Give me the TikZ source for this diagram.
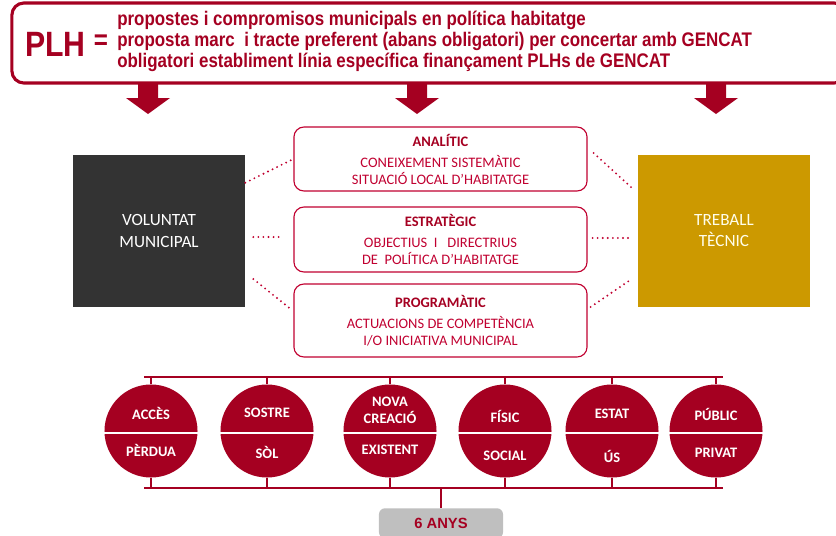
\documentclass[tikz,border=0pt]{standalone}
\usepackage{fontspec}
\newfontfamily\narrowfont[FakeStretch=0.86]{Liberation Sans}
\newfontfamily\arialfont{Liberation Sans}
\newfontfamily\calfont{Carlito}
\usetikzlibrary{positioning,calc}
\definecolor{plhred}{RGB}{165,0,33}
\definecolor{boxred}{RGB}{192,0,48}
\definecolor{darkbox}{RGB}{51,51,51}
\definecolor{goldbox}{RGB}{204,153,0}
\definecolor{anysgray}{RGB}{191,191,191}
\tikzstyle{plhBox}=[draw=plhred, line width=2.2pt, rounded corners=0.3cm, minimum width=20.85cm, minimum height=2cm, inner sep=0pt]
\tikzstyle{plhTxt}=[text=plhred, inner sep=0pt, align=left]
\tikzstyle{sideBox}=[minimum width=4.3cm, minimum height=3.8cm, inner sep=0pt, text=white, font=\calfont\fontsize{12.2}{15}\selectfont, align=center]
\tikzstyle{levelBox}=[draw=boxred, line width=0.8pt, rounded corners=0.25cm, minimum width=7.325cm, inner sep=0pt, text=boxred, font=\calfont\fontsize{10.3}{12}\selectfont, align=center]
\tikzstyle{axisC}=[circle, fill=plhred, minimum size=2.325cm, inner sep=0pt]
\tikzstyle{axisT}=[text=white, font=\calfont\bfseries\fontsize{10.3}{12}\selectfont, align=center, inner sep=0pt]
\tikzstyle{dotLine}=[draw=boxred, line width=1.5pt, line cap=round, dash pattern=on 0pt off 3.6pt]
\tikzstyle{bracketLine}=[draw=plhred, line width=1.5pt]
\newcommand{\lvltitle}[1]{{\bfseries\color{plhred}#1}\\[3pt]}
\begin{document}
\begin{tikzpicture}[x=0.025cm, y=-0.025cm]
                \useasboundingbox (0,0) rectangle (836,535);
                \clip (0,0) rectangle (836,535);
                % PLH header
                \draw (429,43) node[plhBox] (plhbox) {};
                \draw (25,44) node[plhTxt, anchor=west, font=\narrowfont\bfseries\fontsize{25}{28}\selectfont] (plh) {PLH};
                \draw (101,42) node[plhTxt, font=\narrowfont\bfseries\fontsize{20}{22}\selectfont] (eq) {=};
                \draw (117,41) node[plhTxt, anchor=west, font=\narrowfont\bfseries\fontsize{14}{15}\selectfont] (plhtxt)
                    {propostes i compromisos municipals en política habitatge\\
                     proposta marc\ \ i tracte preferent (abans obligatori) per concertar amb GENCAT\\
                     obligatori establiment línia específica finançament PLHs de GENCAT};
                \foreach \ax in {148,417,716}
                    \fill[plhred] (\ax-10,84) -- (\ax+10,84) -- (\ax+10,98) -- (\ax+22,98) -- (\ax,114) -- (\ax-22,98) -- (\ax-10,98) -- cycle;
                % side boxes and levels
                \draw (159,231) node[sideBox, fill=darkbox] (vol) {VOLUNTAT\\MUNICIPAL};
                \draw (724,231) node[sideBox, fill=goldbox, text=white!92!yellow] (tec) {TREBALL\\TÈCNIC};
                \draw (440.5,159) node[levelBox, minimum height=1.6cm] (ana)
                    {\lvltitle{ANALÍTIC}CONEIXEMENT SISTEMÀTIC\\SITUACIÓ LOCAL D’HABITATGE};
                \draw (440.5,239.5) node[levelBox, minimum height=1.625cm] (est)
                    {\lvltitle{ESTRATÈGIC}OBJECTIUS\ \ I\ \ \ DIRECTRIUS\\DE\ \ POLÍTICA D’HABITATGE};
                \draw (440.5,320.5) node[levelBox, minimum height=1.825cm] (pro)
                    {\lvltitle{PROGRAMÀTIC}ACTUACIONS DE COMPETÈNCIA\\I/O INICIATIVA MUNICIPAL};
                \path[dotLine]
                    ($(vol.north east)+(0,28)$) edge (ana.west)
                    ($(vol.east)+(8,6)$) edge ($(est.west)+(-11,-2.5)$)
                    ($(vol.east)+(8,48)$) edge ($(pro.west)+(-4,-12.5)$)
                    ($(ana.east)+(6,-6)$) edge ($(tec.north west)+(-6,33)$)
                    ($(est.east)+(5,-1.5)$) edge ($(tec.west)+(-5,7)$)
                    ($(pro.east)+(3,-13.5)$) edge ($(tec.west)+(-6,48)$)
                ;
                % axes
                \draw (151,431) node[axisC] (c1) {};
                \draw (267,431) node[axisC] (c2) {};
                \draw (390,431) node[axisC] (c3) {};
                \draw (505,431) node[axisC] (c4) {};
                \draw (612,431) node[axisC] (c5) {};
                \draw (716,431) node[axisC] (c6) {};
                \foreach \c in {c1,c2,c3,c4,c5,c6}
                    \draw[white, line width=0.8pt] ($(\c.west)+(0,2)$) -- ($(\c.east)+(0,2)$);
                \draw (151,413) node[axisT] (c1t) {ACCÈS};
                \draw (151,450) node[axisT] (c1b) {PÈRDUA};
                \draw (267,413) node[axisT] (c2t) {SOSTRE};
                \draw (267,452) node[axisT] (c2b) {SÒL};
                \draw (390,410.5) node[axisT] (c3t) {NOVA\\CREACIÓ};
                \draw (390,450) node[axisT] (c3b) {EXISTENT};
                \draw (505,416) node[axisT] (c4t) {FÍSIC};
                \draw (505,456) node[axisT] (c4b) {SOCIAL};
                \draw (612,414) node[axisT] (c5t) {ESTAT};
                \draw (612,456) node[axisT] (c5b) {ÚS};
                \draw (716,414) node[axisT] (c6t) {PÚBLIC};
                \draw (716,453) node[axisT] (c6b) {PRIVAT};
                \coordinate (brt1) at (144,377);
                \coordinate (brt2) at (723,377);
                \coordinate (brb1) at (144,488);
                \coordinate (brb2) at (723,488);
                \draw[bracketLine] (brt1) -- (brt2);
                \draw[bracketLine] (brb1) -- (brb2);
                \foreach \c in {c1,c2,c3,c4,c5,c6}{
                    \draw[bracketLine] (\c.north) -- (\c.north |- brt1);
                    \draw[bracketLine] (\c.south) -- (\c.south |- brb1);
                }
                \draw (441,508) node[anchor=north, fill=anysgray, rounded corners=0.15cm, minimum width=3.1cm, minimum height=0.75cm, inner sep=0pt, text=plhred, font=\arialfont\bfseries\fontsize{10.5}{12}\selectfont] (anys) {6 ANYS};
                \draw[bracketLine] (anys.north) -- (anys.north |- brb1);
        \end{tikzpicture}
\end{document}
